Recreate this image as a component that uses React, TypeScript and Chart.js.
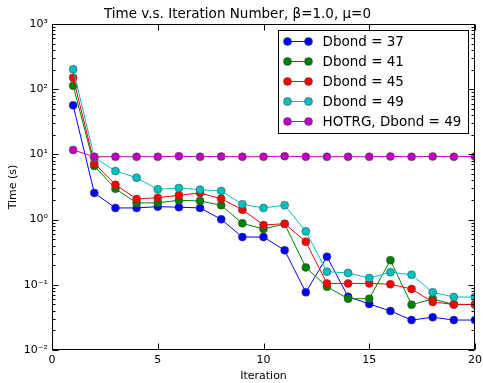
import React, { useEffect, useRef } from "react";
import { Chart, registerables } from "chart.js";

Chart.register(...registerables);

const iterations = [1, 2, 3, 4, 5, 6, 7, 8, 9, 10, 11, 12, 13, 14, 15, 16, 17, 18, 19, 20];
const dbond37 = [56.6, 2.56, 1.51, 1.51, 1.58, 1.55, 1.51, 1.01, 0.54, 0.54, 0.338, 0.0767, 0.27, 0.0657, 0.0508, 0.0396, 0.0288, 0.0318, 0.0288, 0.0288];
const dbond41 = [113, 6.64, 2.98, 1.8, 1.81, 1.98, 1.93, 1.66, 0.877, 0.718, 0.857, 0.185, 0.0935, 0.0612, 0.0612, 0.238, 0.0496, 0.0605, 0.05, 0.05];
const dbond45 = [150, 7.3, 3.43, 2.07, 2.17, 2.36, 2.56, 2.09, 1.42, 0.826, 0.865, 0.458, 0.105, 0.105, 0.105, 0.102, 0.0862, 0.0545, 0.05, 0.05];
const dbond49 = [202, 9.0, 5.56, 4.39, 2.91, 3.05, 2.88, 2.75, 1.72, 1.51, 1.66, 0.66, 0.159, 0.152, 0.127, 0.156, 0.143, 0.0767, 0.065, 0.065];
const hotrg49 = [11.7, 9.2, 9.2, 9.2, 9.2, 9.4, 9.2, 9.3, 9.2, 9.2, 9.4, 9.2, 9.2, 9.2, 9.2, 9.3, 9.2, 9.3, 9.2, 9.3];

const seriesLabels = ["Dbond = 37", "Dbond = 41", "Dbond = 45", "Dbond = 49", "HOTRG, Dbond = 49"];
const seriesColors = ["#0000ff", "#008000", "#ff0000", "#00bfbf", "#bf00bf"];
const seriesData = [dbond37, dbond41, dbond45, dbond49, hotrg49];

const xTickValues = [0, 5, 10, 15, 20];
const yTickValues = [0.01, 0.1, 1, 10, 100, 1000];
const yTickLabels = ["10\u207B\u00B2", "10\u207B\u00B9", "10\u2070", "10\u00B9", "10\u00B2", "10\u00B3"];

const titleText = "Time v.s. Iteration Number, \u03B2=1.0, \u03BC=0";
const FONT = "'DejaVu Sans', 'Liberation Sans', sans-serif";

const framePlugin = {
  id: "mplFrame",
  afterDatasetsDraw(chart: any) {
    const { ctx, chartArea: a, scales } = chart;
    const xs = scales.x;
    const ys = scales.y;
    ctx.save();
    ctx.strokeStyle = "#000";
    ctx.lineWidth = 1;
    ctx.beginPath();
    const L = Math.round(a.left) + 0.5;
    const R = Math.round(a.right) - 0.5;
    const T = Math.round(a.top) + 0.5;
    const B = Math.round(a.bottom) - 0.5;
    for (const v of xTickValues) {
      const px = Math.round(xs.getPixelForValue(v)) + 0.5;
      ctx.moveTo(px, B);
      ctx.lineTo(px, B - 6);
      ctx.moveTo(px, T);
      ctx.lineTo(px, T + 6);
    }
    for (const v of yTickValues) {
      const py = Math.round(ys.getPixelForValue(v)) + 0.5;
      ctx.moveTo(L, py);
      ctx.lineTo(L + 6, py);
      ctx.moveTo(R, py);
      ctx.lineTo(R - 6, py);
    }
    for (let e = -2; e <= 2; e++) {
      for (let m = 2; m <= 9; m++) {
        const py = Math.round(ys.getPixelForValue(m * Math.pow(10, e))) + 0.5;
        ctx.moveTo(L, py);
        ctx.lineTo(L + 3, py);
        ctx.moveTo(R, py);
        ctx.lineTo(R - 3, py);
      }
    }
    ctx.stroke();
    ctx.strokeRect(L, T, R - L, B - T);
    ctx.restore();
  },
};

const legendPlugin = {
  id: "mplLegend",
  afterDraw(chart: any) {
    const { ctx, chartArea: a } = chart;
    const ds = chart.data.datasets;
    const boxW = 190;
    const rowH = 20;
    const right = Math.round(a.right) - 6.5;
    const left = right - boxW;
    const top = Math.round(a.top) + 6.5;
    const boxH = rowH * ds.length + 3;
    ctx.save();
    ctx.fillStyle = "#fff";
    ctx.fillRect(left, top, boxW, boxH);
    ctx.strokeStyle = "#000";
    ctx.lineWidth = 1;
    ctx.strokeRect(left, top, boxW, boxH);
    ctx.font = `13.5px ${FONT}`;
    ctx.textBaseline = "middle";
    ctx.textAlign = "left";
    ds.forEach((d: any, i: number) => {
      const cy = top + 11 + i * rowH;
      const x1 = left + 9;
      const x2 = left + 30;
      ctx.strokeStyle = d.borderColor;
      ctx.lineWidth = 1;
      ctx.beginPath();
      ctx.moveTo(x1, cy);
      ctx.lineTo(x2, cy);
      ctx.stroke();
      for (const px of [x1, x2]) {
        ctx.beginPath();
        ctx.arc(px, cy, 4, 0, Math.PI * 2);
        ctx.fillStyle = d.pointBackgroundColor;
        ctx.fill();
        ctx.strokeStyle = d.pointBorderColor;
        ctx.lineWidth = 0.5;
        ctx.stroke();
      }
      ctx.fillStyle = "#000";
      ctx.fillText(d.label, left + 44, cy + 1);
    });
    ctx.restore();
  },
};

export default function App() {
  const canvasRef = useRef<HTMLCanvasElement | null>(null);

  useEffect(() => {
    if (!canvasRef.current) return;
    Chart.defaults.font.family = FONT;
    const datasets = seriesData.map((vals, i) => ({
      label: seriesLabels[i],
      data: iterations.map((x, j) => ({ x, y: vals[j] })),
      borderColor: seriesColors[i],
      backgroundColor: seriesColors[i],
      pointBackgroundColor: seriesColors[i],
      pointBorderColor: "#444",
      pointBorderWidth: 0.5,
      pointRadius: 4,
      borderWidth: 1,
      tension: 0,
      order: seriesData.length - i,
    }));
    const chart = new Chart(canvasRef.current, {
      type: "line",
      data: { datasets },
      plugins: [framePlugin, legendPlugin],
      options: {
        animation: false,
        responsive: false,
        devicePixelRatio: 1,
        layout: { padding: { top: 0, right: 8, bottom: 0, left: 0 } },
        plugins: {
          legend: { display: false },
          tooltip: { enabled: false },
          title: {
            display: true,
            text: titleText,
            color: "#000",
            font: { size: 13.5, weight: "normal", family: FONT, lineHeight: 1.2 },
            padding: { top: 6, bottom: 1.8 },
          },
        },
        scales: {
          x: {
            type: "linear",
            min: 0,
            max: 20,
            grid: { display: false, drawTicks: false },
            border: { display: false },
            afterBuildTicks: (scale: any) => {
              scale.ticks = xTickValues.map((v) => ({ value: v }));
            },
            afterFit: (scale: any) => {
              scale.height = 33;
              scale.paddingLeft = 0;
              scale.paddingRight = 0;
            },
            ticks: {
              color: "#000",
              font: { size: 11 },
              padding: 4,
              maxRotation: 0,
              autoSkip: false,
              callback: (v: any) => String(v),
            },
            title: {
              display: true,
              text: "Iteration",
              color: "#000",
              font: { size: 11, lineHeight: 1.2 },
              padding: { top: 0, bottom: 0 },
            },
          },
          y: {
            type: "logarithmic",
            min: 0.01,
            max: 1000,
            grid: { display: false, drawTicks: false },
            border: { display: false },
            afterBuildTicks: (scale: any) => {
              scale.ticks = yTickValues.map((v) => ({ value: v }));
            },
            afterFit: (scale: any) => {
              scale.width = 52;
              scale.paddingTop = 0;
              scale.paddingBottom = 0;
            },
            ticks: {
              color: "#000",
              font: { size: 11 },
              padding: 4,
              autoSkip: false,
              callback: (v: any) => {
                const idx = yTickValues.findIndex((t) => Math.abs(Math.log10(t) - Math.log10(Number(v))) < 1e-6);
                return idx >= 0 ? yTickLabels[idx] : "";
              },
            },
            title: {
              display: true,
              text: "Time (s)",
              color: "#000",
              font: { size: 11, lineHeight: 1.2 },
              padding: { top: 7, bottom: 0 },
            },
          },
        },
      } as any,
    });
    return () => chart.destroy();
  }, []);

  return (
    <div style={{ position: "fixed", left: 0, top: 0, width: 483, height: 383, background: "#fff" }}>
      <canvas ref={canvasRef} width={483} height={383} />
    </div>
  );
}
